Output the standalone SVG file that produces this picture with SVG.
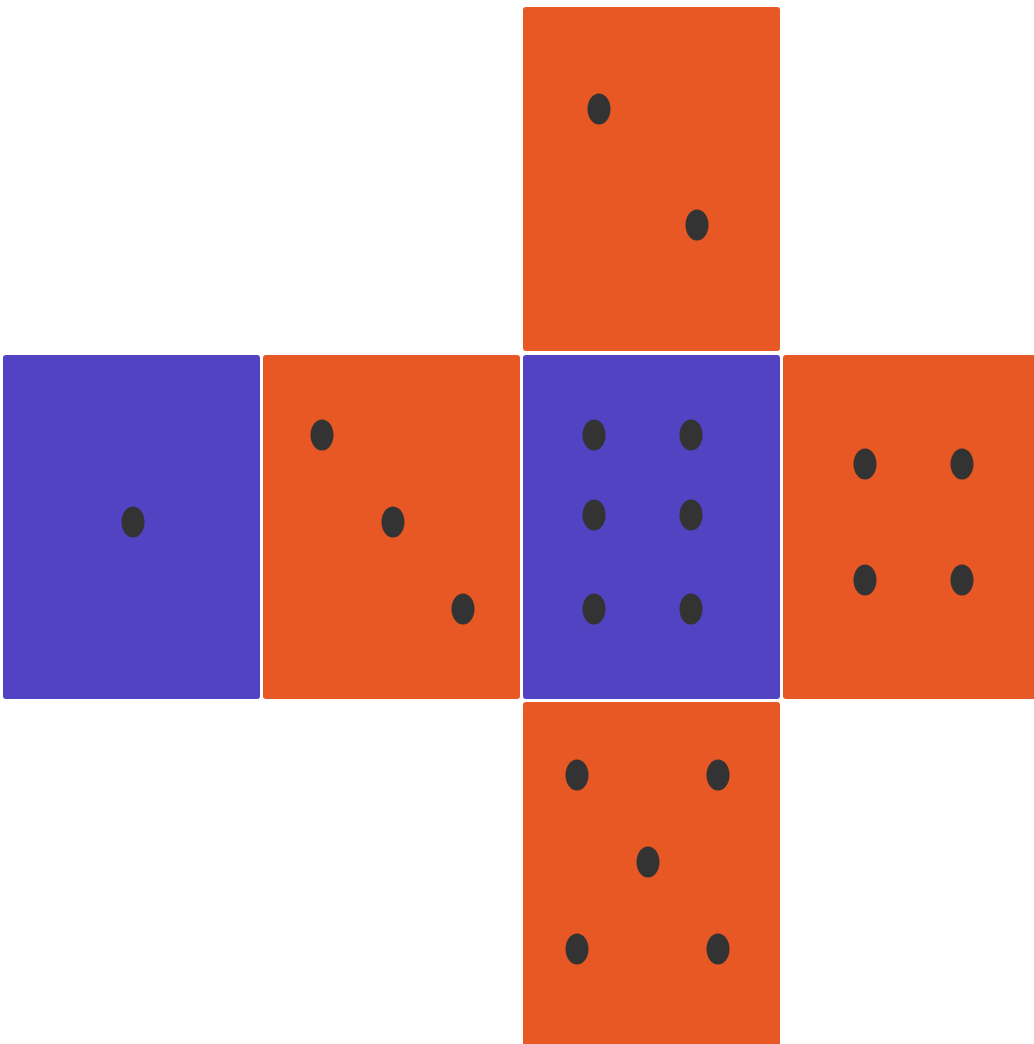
<svg xmlns="http://www.w3.org/2000/svg" width="1034" height="1044" viewBox="0 0 1034 1044">
<style>
.o{fill:#E85824}
.p{fill:#5243C3}
.d{fill:#333333}
</style>
<defs>
<ellipse id="pip" rx="11.5" ry="15.5" class="d"/>
</defs>
<rect width="1034" height="1044" fill="#FFFFFF"/>
<g id="face-top">
<rect class="o" x="523" y="7" width="257" height="344" rx="3"/>
<use href="#pip" x="599" y="109"/>
<use href="#pip" x="697" y="225"/>
</g>
<g id="face-left">
<rect class="p" x="3" y="355" width="257" height="344" rx="3"/>
<use href="#pip" x="133" y="522"/>
</g>
<g id="face-three">
<rect class="o" x="263" y="355" width="257" height="344" rx="3"/>
<use href="#pip" x="322" y="435"/>
<use href="#pip" x="393" y="522"/>
<use href="#pip" x="463" y="609"/>
</g>
<g id="face-center">
<rect class="p" x="523" y="355" width="257" height="344" rx="3"/>
<use href="#pip" x="594" y="435"/>
<use href="#pip" x="691" y="435"/>
<use href="#pip" x="594" y="515"/>
<use href="#pip" x="691" y="515"/>
<use href="#pip" x="594" y="609"/>
<use href="#pip" x="691" y="609"/>
</g>
<g id="face-right">
<rect class="o" x="783" y="355" width="257" height="344" rx="3"/>
<use href="#pip" x="865" y="464"/>
<use href="#pip" x="962" y="464"/>
<use href="#pip" x="865" y="580"/>
<use href="#pip" x="962" y="580"/>
</g>
<g id="face-bottom">
<rect class="o" x="523" y="702" width="257" height="350" rx="3"/>
<use href="#pip" x="577" y="775"/>
<use href="#pip" x="718" y="775"/>
<use href="#pip" x="648" y="862"/>
<use href="#pip" x="577" y="949"/>
<use href="#pip" x="718" y="949"/>
</g>
<g id="connectors"/>
</svg>
